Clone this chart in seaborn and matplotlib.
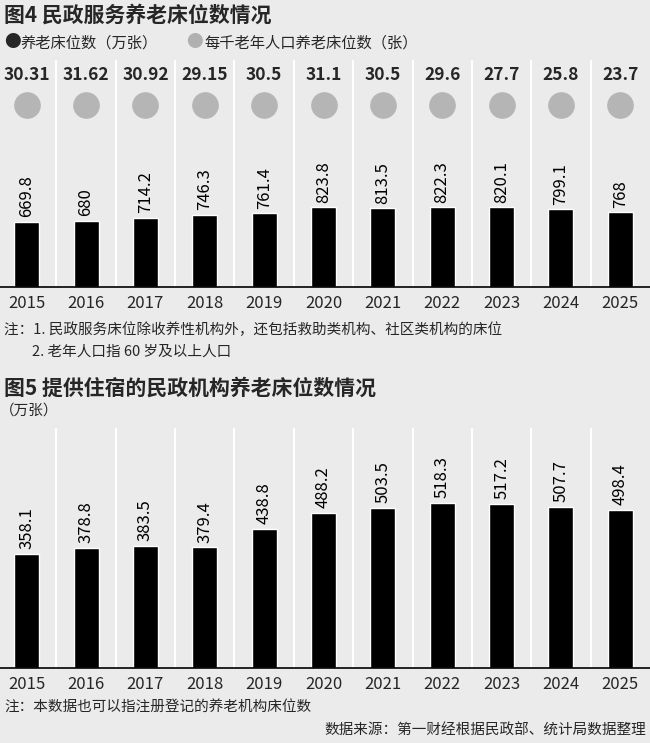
import matplotlib
matplotlib.use('Agg')
import matplotlib.pyplot as plt
import seaborn as sns

years = ['2015', '2016', '2017', '2018', '2019', '2020', '2021', '2022', '2023', '2024', '2025']
beds_service = [669.8, 680, 714.2, 746.3, 761.4, 823.8, 813.5, 822.3, 820.1, 799.1, 768]
beds_per_1000 = ['30.31', '31.62', '30.92', '29.15', '30.5', '31.1', '30.5', '29.6', '27.7', '25.8', '23.7']
beds_lodging = [358.1, 378.8, 383.5, 379.4, 438.8, 488.2, 503.5, 518.3, 517.2, 507.7, 498.4]

sns.set_theme(style='white')
plt.rcParams['font.family'] = ['Noto Sans CJK SC', 'DejaVu Sans']

W, H = 650, 743
bg = '#ebebeb'
fig = plt.figure(figsize=(W / 100, H / 100), dpi=100, facecolor=bg)


def px_axes(left, top, right, bottom):
    return fig.add_axes([left / W, 1 - bottom / H, (right - left) / W, (bottom - top) / H])


def draw_bars(ax, values, ymax):
    ax.set_facecolor(bg)
    sns.barplot(x=years, y=values, color='black', width=0.42, ax=ax, saturation=1)
    ax.set_xlim(-0.45, 10.5)
    ax.set_ylim(0, ymax)
    for i in range(len(years) - 1):
        ax.axvline(i + 0.5, color='white', lw=1.5, zorder=0)
    for i, v in enumerate(values):
        ax.text(i, v + ymax * 0.02, f'{v:g}', rotation=90, ha='center', va='bottom',
                fontsize=12, color='black')
    for s in ['top', 'right', 'left']:
        ax.spines[s].set_visible(False)
    ax.spines['bottom'].set_color('black')
    ax.spines['bottom'].set_linewidth(1.2)
    ax.set_yticks([])
    ax.set_xlabel('')
    ax.set_ylabel('')
    ax.tick_params(axis='x', length=0, labelsize=12, pad=6)


# Figure 4
fig.text(4 / W, 1 - 15 / H, '图4 民政服务养老床位数情况', fontsize=15, fontweight='bold', va='center')
fig.text(4 / W, 1 - 43 / H, '●', fontsize=12, va='center')
fig.text(20 / W, 1 - 43 / H, '养老床位数（万张）', fontsize=11, va='center')
fig.text(186 / W, 1 - 43 / H, '●', fontsize=12, color='#b0b0b0', va='center')
fig.text(204 / W, 1 - 43 / H, '每千老年人口养老床位数（张）', fontsize=11, va='center')

ax1 = px_axes(0, 60, 650, 287)
ymax1 = 2340
draw_bars(ax1, beds_service, ymax1)
xs = list(range(len(years)))
ax1.scatter(xs, [1876] * len(xs), s=330, color='#b5b5b5', zorder=3, clip_on=False)
for i, t in enumerate(beds_per_1000):
    ax1.text(i, 2185, t, ha='center', va='center', fontsize=12.5, fontweight='bold')

fig.text(4 / W, 1 - 330 / H, '注：1. 民政服务床位除收养性机构外，还包括救助类机构、社区类机构的床位',
         fontsize=10.5, va='center')
fig.text(32 / W, 1 - 352 / H, '2. 老年人口指 60 岁及以上人口', fontsize=10.5, va='center')

# Figure 5
fig.text(4 / W, 1 - 388 / H, '图5 提供住宿的民政机构养老床位数情况', fontsize=15, fontweight='bold', va='center')
fig.text(0 / W, 1 - 411 / H, '（万张）', fontsize=10.5, va='center')

ax2 = px_axes(0, 428, 650, 668)
draw_bars(ax2, beds_lodging, 755)

fig.text(4 / W, 1 - 708 / H, '注：本数据也可以指注册登记的养老机构床位数', fontsize=10.5, va='center')
fig.text(646 / W, 1 - 731 / H, '数据来源：第一财经根据民政部、统计局数据整理', fontsize=10.5,
         va='center', ha='right')

fig.savefig('out.png', dpi=100, facecolor=bg)
